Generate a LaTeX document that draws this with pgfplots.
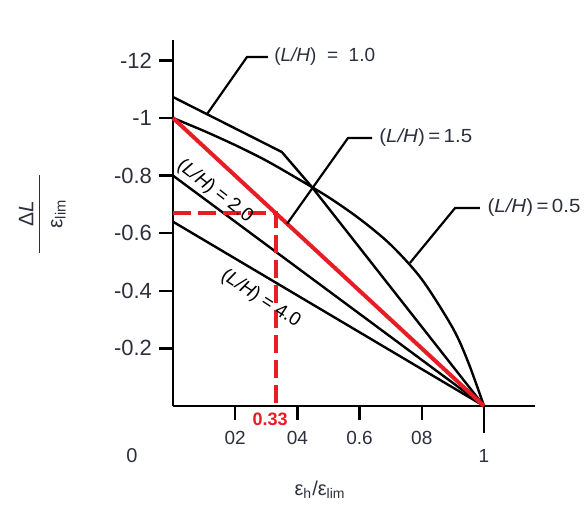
\documentclass[border=0pt]{standalone}
\usepackage{pgfplots}
\pgfplotsset{compat=1.18}
\usepackage{fontspec}
\setmainfont{Liberation Sans}
\definecolor{lhred}{RGB}{232,28,36}
\definecolor{txt}{RGB}{45,48,60}
\tikzset{lbl/.style={text=txt, font=\fontsize{9.5}{11}\selectfont, inner sep=1pt}}

\begin{document}
\begin{tikzpicture}
\path[use as bounding box] (-86.5pt,-50.5pt) rectangle (206.5pt,203pt);
\begin{axis}[
  at={(0pt,0pt)}, anchor=south west,
  scale only axis,
  width=181pt, height=183pt,
  xmin=0, xmax=1.164,
  ymin=-1.271, ymax=0,
  y dir=reverse,
  axis x line=bottom,
  axis y line=left,
  axis line style={line width=1.2pt, -},
  clip=false,
  xtick={0.2,0.4,0.6,0.8},
  xticklabels={02,04,0.6,08},
  extra x ticks={1},
  extra x tick labels={1},
  extra x tick style={major tick length=13.5pt, xticklabel style={yshift=-2.5pt}},
  ytick={-1.2,-1,-0.8,-0.6,-0.4,-0.2},
  yticklabels={-12,-1,-0.8,-0.6,-0.4,-0.2},
  tick align=outside,
  major tick length=7pt,
  tick style={line width=1.2pt, black},
  x tick label style={font=\fontsize{9.5}{11}\selectfont, text=txt, yshift=-2pt},
  y tick label style={font=\fontsize{11}{13}\selectfont, text=txt},
]
% (L/H) = 1.0
\addplot[black, line width=1.2pt] coordinates {(0,-1.073) (0.350,-0.882) (0.447,-0.760) (1,0)};
% (L/H) = 0.5
\addplot[black, line width=1.2pt, smooth] coordinates {
  (0,-1.0) (0.1,-0.955) (0.2,-0.906) (0.3,-0.852) (0.4,-0.790) (0.5,-0.725)
  (0.6,-0.650) (0.7,-0.560) (0.8,-0.440) (0.9,-0.270) (0.95,-0.150) (1,0)};
% (L/H) = 2.0
\addplot[black, line width=1.2pt] coordinates {(0,-0.80) (1,0)};
% (L/H) = 4.0
\addplot[black, line width=1.2pt] coordinates {(0,-0.64) (1,0)};
% (L/H) = 1.5
\addplot[lhred, line width=2pt] coordinates {(0,-1.0) (1,0)};
% reading at 0.33
\addplot[lhred, line width=1.8pt, dash pattern=on 9pt off 3.5pt] coordinates {(0,-0.67) (0.331,-0.67) (0.331,0)};

% leaders and labels
\draw[line width=1.1pt] (axis cs:0.109,-1.013) -- (axis cs:0.238,-1.212) -- (axis cs:0.305,-1.212);
\node[lbl, anchor=west] at (axis cs:0.318,-1.212) {(\textit{L/H})\ \ =\ \ 1.0};
\draw[line width=1.1pt] (axis cs:0.367,-0.633) -- (axis cs:0.563,-0.931) -- (axis cs:0.640,-0.931);
\node[lbl, anchor=west, xscale=1.08] at (axis cs:0.655,-0.931) {(\textit{L/H})\,=\,1.5};
\draw[line width=1.1pt] (axis cs:0.762,-0.497) -- (axis cs:0.907,-0.6875) -- (axis cs:0.987,-0.6875);
\node[lbl, anchor=west, xscale=1.08] at (axis cs:1.003,-0.6875) {(\textit{L/H})\,=\,0.5};
\node[lbl, rotate=-38, text=black] at (axis cs:0.135,-0.745) {(\textit{L/H}) = 2.0};
\node[lbl, rotate=-33, text=black] at (axis cs:0.282,-0.372) {(\textit{L/H}) = 4.0};
\node[text=lhred, font=\fontsize{9}{10}\selectfont\bfseries] at (axis cs:0.312,0.045) {0.33};
\node[text=txt, font=\fontsize{10}{12}\selectfont] at (axis cs:-0.132,0.174) {0};
\node[text=txt, font=\fontsize{10}{12}\selectfont] at (axis cs:0.473,0.292) {ε\textsubscript{h}/ε\textsubscript{lim}};
\node[rotate=90, text=txt, font=\fontsize{10.5}{12}\selectfont, inner sep=0pt] at (axis cs:-0.418,-0.667)
  {\setlength{\arrayrulewidth}{0.9pt}\begin{tabular}{@{}c@{}}\makebox[39pt]{Δ\textit{L}}\\[-1pt]\hline\rule{0pt}{11pt}ε\textsubscript{lim}\end{tabular}};
\end{axis}
\end{tikzpicture}
\end{document}
